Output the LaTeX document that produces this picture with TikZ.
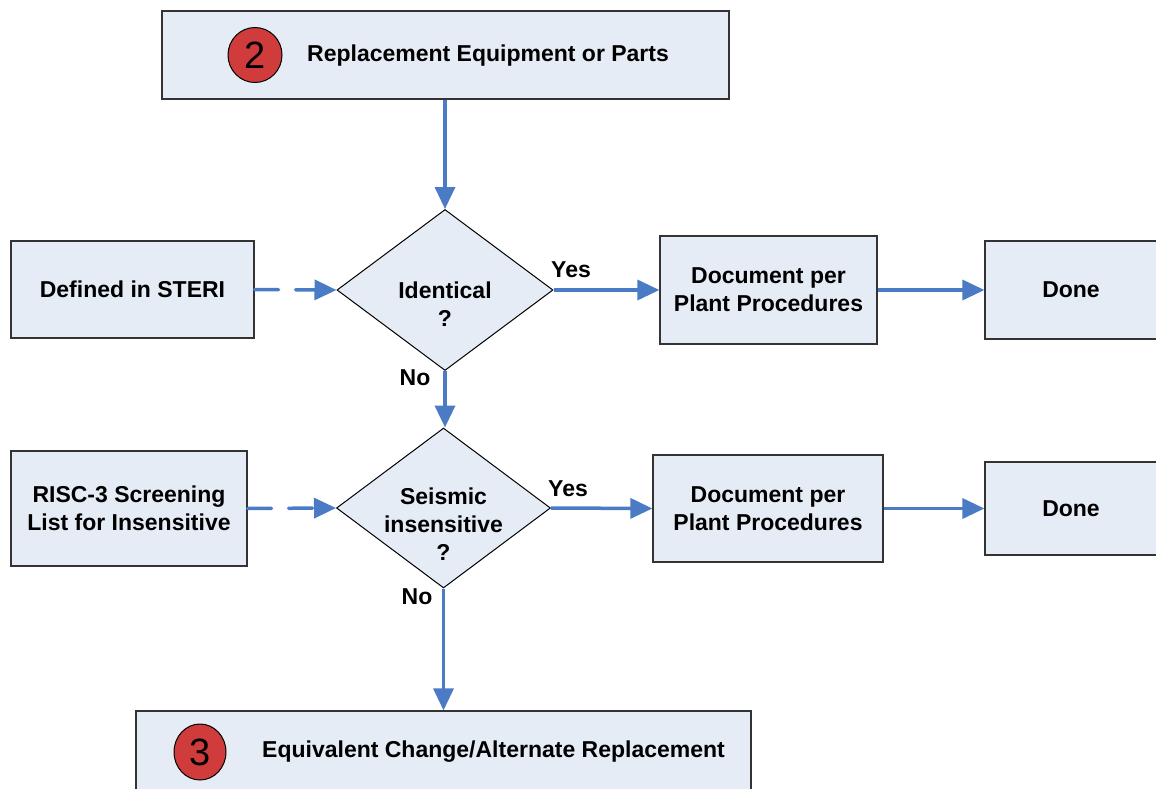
\documentclass[tikz,border=0pt]{standalone}
\usepackage{fontspec}
\setmainfont{Liberation Sans}
\usetikzlibrary{shapes.geometric,arrows.meta}

\definecolor{boxfill}{HTML}{E6ECF6}
\definecolor{flowblue}{HTML}{4A7BC4}
\definecolor{stepred}{HTML}{D03B3B}
\definecolor{edgegray}{HTML}{333333}

\tikzset{
  lbl/.style={font=\fontsize{23}{28}\selectfont\bfseries, align=center, inner sep=0pt},
  procbox/.style={draw=edgegray, line width=1.2pt, fill=boxfill, inner sep=0pt, lbl},
  decision/.style={diamond, draw=black, line width=1pt, fill=boxfill, inner sep=0pt},
  stepmark/.style={ellipse, draw=black, line width=1pt, fill=stepred, inner sep=0pt,
    font=\fontsize{38}{38}\selectfont},
  flow/.style={draw=flowblue, line width=3.5pt, -{Triangle[length=22pt,width=20pt]}},
  feed/.style={flow, line cap=round, dash pattern=on 24pt off 17pt},
}

\begin{document}
\begin{tikzpicture}[x=1pt, y=-1pt]
\useasboundingbox (0,0) rectangle (1156,789);

% step 2 header
\node[procbox, minimum width=567pt, minimum height=88pt] (top) at (445.5,55) {};
\node[stepmark, minimum width=54pt, minimum height=55pt] (m2) at (255,55) {2};
\node[lbl, anchor=west] (toptxt) at (307,56) {Replacement Equipment or Parts};

% first decision row
\node[decision, minimum width=216pt, minimum height=161pt] (d1) at (445,290) {};
\node[lbl] (d1txt) at (445,304) {Identical\\?};
\node[procbox, minimum width=243pt, minimum height=97pt] (steri) at (132.5,289.5) {Defined in STERI};
\node[procbox, minimum width=217pt, minimum height=108pt] (doc1) at (768.5,290) {Document per\\Plant Procedures};
\node[procbox, minimum width=172pt, minimum height=98pt] (done1) at (1071,290) {Done};

% second decision row
\node[decision, minimum width=214pt, minimum height=160pt] (d2) at (443.5,508) {};
\node[lbl] (d2txt) at (443.5,524) {Seismic\\insensitive\\?};
\node[procbox, minimum width=236pt, minimum height=115pt] (risc) at (129,508.5) {RISC-3 Screening\\List for Insensitive};
\node[procbox, minimum width=230pt, minimum height=107pt] (doc2) at (768,508.5) {Document per\\Plant Procedures};
\node[procbox, minimum width=172pt, minimum height=93pt] (done2) at (1071,508.5) {Done};

% step 3 footer
\node[procbox, minimum width=615pt, minimum height=90pt] (bot) at (443.5,756) {};
\node[stepmark, minimum width=52pt, minimum height=56pt] (m3) at (200,752) {3};
\node[lbl, anchor=west] (bottxt) at (262,752) {Equivalent Change/Alternate Replacement};

% branch labels
\node[lbl] (yes1) at (571,270) {Yes};
\node[lbl] (no1) at (415,378) {No};
\node[lbl] (yes2) at (568,489) {Yes};
\node[lbl] (no2) at (417,597) {No};

% connectors
\draw[flow] (d1.north |- top.south) -- (d1.north);
\draw[feed] (steri.east) -- (d1.west);
\draw[flow] (d1.east) -- (doc1.west);
\draw[flow] (doc1.east) -- (done1.west);
\draw[flow] (d1.south) -- (d1.south |- d2.north);
\draw[feed] (risc.east) -- (d2.west);
\draw[flow] (d2.east) -- (doc2.west);
\draw[flow] (doc2.east) -- (done2.west);
\draw[flow] (d2.south) -- (d2.south |- bot.north);
\end{tikzpicture}
\end{document}
